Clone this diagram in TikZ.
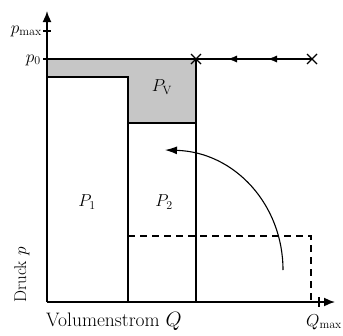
\documentclass[tikz,border=0pt]{standalone}
\usepackage{amsmath}
\usepackage{tikz}
\usetikzlibrary{arrows.meta,positioning,calc}

\tikzset{
  axis/.style={line width=1.6pt, -{Latex[length=11pt,width=9pt]}},
  edge/.style={line width=1.2pt},
  lbl/.style={font=\fontsize{17}{20}\selectfont, inner sep=1pt},
  axislbl/.style={font=\fontsize{19.5}{22}\selectfont, inner sep=1pt},
  cross/.style={line width=1.1pt}
}

\begin{document}
\begin{tikzpicture}[x=1pt,y=-1pt]
            \useasboundingbox (0,0) rectangle (343,335);
            % Verlustleistung
            \fill[gray!45] (47,59) -- (196,59) -- (196,123) -- (128,123) -- (128,77) -- (47,77) -- cycle;
            \draw[edge] (47,77) -- (128,77) -- (128,302);
            \draw[edge] (128,123) -- (196,123);
            \draw[edge] (196,59) -- (196,302);
            \draw[edge] (47,59) -- (312,59);
            % Pfeile auf p0
            \draw[-{Latex[length=9pt,width=7pt]}] (245,59) -- (228,59);
            \draw[-{Latex[length=9pt,width=7pt]}] (285,59) -- (268,59);
            \coordinate (x1) at (196,59);
            \coordinate (x2) at (312,59);
            \foreach \c in {x1,x2}
              \draw[cross] ($(\c)+(-5,-5)$) -- ($(\c)+(5,5)$) ($(\c)+(-5,5)$) -- ($(\c)+(5,-5)$);
            % Achsen
            \coordinate (o) at (47,302);
            \draw[axis] (o) -- (47,11);
            \draw[axis] (o) -- (335,302);
            \draw[edge] (43,31) -- (51,31);
            \draw[edge] (43,59) -- (51,59);
            \draw[edge] (319,297) -- (319,307);
            % Betriebspunkt
            \draw[edge, dash pattern=on 7pt off 5pt] (128,236) -- (311,236) -- (311,302);
            \draw[line width=1.1pt, -{Latex[length=12pt,width=8pt]}] (283,270) .. controls (283,205) and (235,152) .. (165,150);
            % Beschriftung
            \node[lbl, anchor=east] at (43,31) {$p_{\mathrm{max}}$};
            \node[lbl, anchor=east] at (42,60) {$p_{0}$};
            \node[lbl] at (162,87) {$P_{\mathrm{V}}$};
            \node[lbl] at (87,202) {$P_{1}$};
            \node[lbl] at (164,202) {$P_{2}$};
            \node[lbl, rotate=90] at (22,275) {Druck $p$};
            \node[axislbl, anchor=west] at (45,321) {Volumenstrom $Q$};
            \node[lbl] at (324,322) {$Q_{\mathrm{max}}$};
\end{tikzpicture}
\end{document}
